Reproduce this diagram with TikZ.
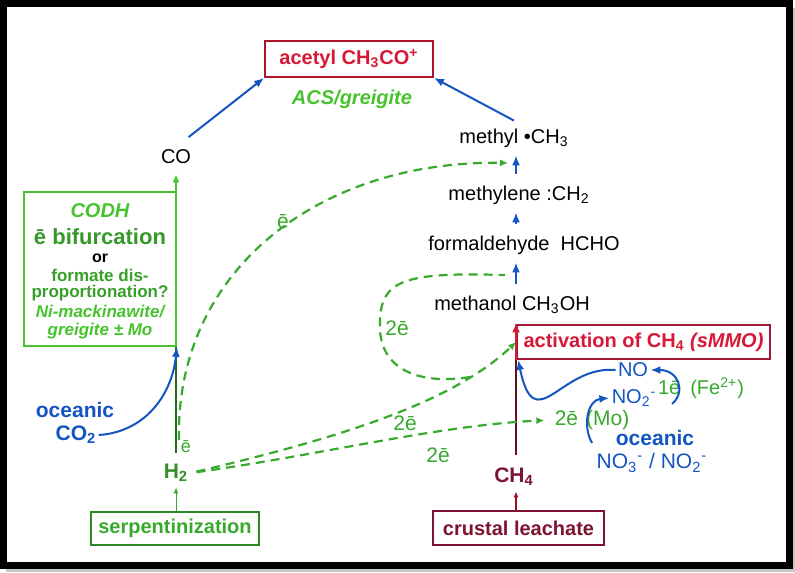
\documentclass[tikz,border=0pt]{standalone}
\usepackage{fontspec}
\setmainfont{Liberation Sans}
\usepackage{tikz}
\usetikzlibrary{arrows.meta}
\definecolor{egrn}{RGB}{55,170,45}
\definecolor{bgrn}{RGB}{70,195,45}
\definecolor{dgrn}{RGB}{45,135,40}
\definecolor{crim}{RGB}{215,25,55}
\definecolor{mrn}{RGB}{125,20,50}
\definecolor{oblue}{RGB}{20,85,195}
\def\fs#1{\fontsize{#1}{#1}\selectfont}
\def\lo{\textsubscript}
\def\hi{\textsuperscript}

\begin{document}
\begin{tikzpicture}[x=0.5pt,y=-0.5pt,
    lbl/.style={inner sep=1pt,font=\fs{10}},
    chem/.style={lbl,minimum height=17pt,inner sep=0pt},
    frm/.style={draw,line width=0.9pt,inner sep=0pt},
    barr/.style={oblue,line width=1pt,-{Latex[length=5pt,width=4pt]}},
    edash/.style={egrn,line width=1.1pt,dash pattern=on 4.5pt off 3pt},
    earr/.style={edash,-{Latex[length=4pt,width=3.5pt]}}]

% frame
\useasboundingbox (0,0) rectangle (795,572);
\fill[gray!45] (6,8) rectangle (795,572);
\fill[white] (0,0) rectangle (789,565);
\draw[line width=3.5pt] (3.5,4) rectangle (789,565);

% acetyl and the methyl branch
\node[frm,crim!80!black,minimum width=84pt,minimum height=18pt,text=crim,font=\fs{10}\bfseries] (acetyl) at (349,59) {acetyl CH\lo{3}CO\hi{+}};
\node[lbl,text=bgrn,font=\fs{10}\bfseries\itshape] (acs) at (352,99) {ACS/greigite};
\node[chem] (co) at (176,157) {CO};
\node[chem] (methyl) at (514,138) {methyl •CH\lo{3}};
\node[chem] (methylene) at (519,195) {methylene :CH\lo{2}};
\node[chem] (formald) at (524,245) {formaldehyde\ \ HCHO};
\node[chem] (methanol) at (512,305) {methanol CH\lo{3}OH};
\coordinate (chain) at (516,0);

\draw[barr,shorten <=2pt] ([xshift=-3pt]co.north east) -- (acetyl.south west);
\draw[barr] (methyl.north) -- (acetyl.south east);
\foreach \a/\b in {methylene/methyl,formald/methylene,methanol/formald}
    \draw[barr,shorten <=2pt] (\a.north -| chain) -- (\b.south -| chain);

% methane side
\node[frm,mrn,minimum width=85.5pt,minimum height=17pt,text=mrn,font=\fs{10}\bfseries] (crust) at (518.5,528) {crustal leachate};
\node[lbl,text=mrn,font=\fs{10.5}\bfseries,minimum height=14pt] (ch4) at (514,477) {CH\lo{4}};
\draw[mrn!70!red,line width=0.6pt,-{Latex[length=3pt,width=2.5pt]}] (crust.north -| chain) -- (ch4.south -| chain);
\node[frm,mrn!60!crim,minimum width=126.5pt,minimum height=17pt,text=crim,font=\fs{10}\bfseries] (act) at (643.5,342) {activation of CH\lo{4} \textit{(sMMO)}};
\draw[mrn!80!black,line width=1.2pt,shorten <=4pt] (ch4.north -| chain) -- (act.south west -| chain);
\draw[crim,line width=1.2pt,-{Latex[length=5pt,width=4pt]}] (act.south west -| chain) -- (methanol.south -| chain);

% CODH side
\node[frm,bgrn,minimum width=76pt,minimum height=77pt] (codh) at (100,269) {};
\node[lbl,text=bgrn,font=\fs{10}\bfseries\itshape] (codh1) at (100,211) {CODH};
\node[lbl,text=dgrn!70!bgrn,font=\fs{11}\bfseries] (codh2) at (100,237) {ē bifurcation};
\node[lbl,font=\fs{8}\bfseries] (codh3) at (100,258) {or};
\node[lbl,text=dgrn!60!bgrn,font=\fs{8.5}\bfseries] (codh4) at (100,275) {formate dis-};
\node[lbl,text=dgrn!60!bgrn,font=\fs{8.5}\bfseries] (codh5) at (100,293) {proportionation?};
\node[lbl,text=bgrn,font=\fs{8.5}\bfseries\itshape] (codh6) at (100,312) {Ni-mackinawite/};
\node[lbl,text=bgrn,font=\fs{8.5}\bfseries\itshape] (codh7) at (100,331) {greigite ± Mo};

\node[frm,dgrn,minimum width=84pt,minimum height=16.5pt,text=egrn,font=\fs{10}\bfseries] (serp) at (175,528.5) {serpentinization};
\node[lbl,text=egrn!85!black,font=\fs{10.5}\bfseries,minimum height=14pt] (h2) at (176,473) {H\lo{2}};
\draw[egrn,line width=0.5pt,-{Latex[length=3pt,width=2.5pt]}] (serp.north -| h2) -- (h2.south);
\draw[dgrn!80!black,line width=1.1pt,shorten <=3pt] (h2.north) -- (codh.south east -| h2);
\draw[bgrn,line width=1.1pt,-{Latex[length=4pt,width=3.5pt]}] (codh.south east -| h2) -- (co.south);
\node[lbl,text=egrn,font=\fs{9}] (eh2) at (186,447) {ē};

\node[lbl,text=oblue,font=\fs{10.5}\bfseries] (ocean1) at (75,410) {oceanic};
\node[lbl,text=oblue,font=\fs{10.5}\bfseries] (co2) at (76,435) {CO\lo{2}};
\draw[barr] (co2.east) .. controls (145,432) and (172,395) .. (codh.south east);

% electron flows
\coordinate (e1start) at (179,440);
\coordinate (e1end) at (508,163);
\draw[earr] (e1start) .. controls (175,270) and (320,160) .. (e1end);
\node[lbl,text=egrn,font=\fs{10.5}] (eup) at (283,222) {ē};

\draw[earr,shorten <=3pt] (h2.east) .. controls (330,440) and (450,405) .. (act.west);
\coordinate (loopst) at (470,377);
\draw[edash] (loopst) .. controls (420,385) and (382,370) .. (380,330) .. controls (378,280) and (400,272) .. (505,275);
\node[lbl,text=egrn,font=\fs{10.5}] (eloop) at (397,328) {2ē};
\node[lbl,text=egrn,font=\fs{10.5}] (emid) at (405,423) {2ē};
\node[lbl,text=egrn,font=\fs{10.5}] (elow) at (438,455) {2ē};

\node[lbl,text=egrn,font=\fs{10.5}] (mo) at (592,420) {2ē\hspace{4pt}(Mo)};
\draw[earr,shorten <=3pt,shorten >=4pt] (h2.east) .. controls (320,455) and (440,425) .. (mo.west);

% nitrogen oxides
\node[lbl,text=oblue,font=\fs{10}] (no) at (633,370) {NO};
\node[lbl,text=oblue,font=\fs{10}] (no2) at (634,398) {NO\lo{2}\hi{-}};
\node[lbl,text=egrn,font=\fs{10}] (fe) at (701,388) {1ē\hspace{5pt}(Fe\hi{2+})};
\node[lbl,text=oblue,font=\fs{10.5}\bfseries] (ocean2) at (655,438) {oceanic};
\node[lbl,text=oblue,font=\fs{10.5}] (no3) at (652,463) {NO\lo{3}\hi{-} / NO\lo{2}\hi{-}};

\coordinate (mostart) at (592,443);
\coordinate (festart) at (672,404);
\draw[barr] (no.west) .. controls (560,365) and (535,440) .. ([xshift=1pt]act.south west);
\draw[barr] (mostart) .. controls (582,425) and (588,400) .. (no2.west);
\draw[barr] (festart) .. controls (686,392) and (679,370) .. (no.east);
\end{tikzpicture}
\end{document}
